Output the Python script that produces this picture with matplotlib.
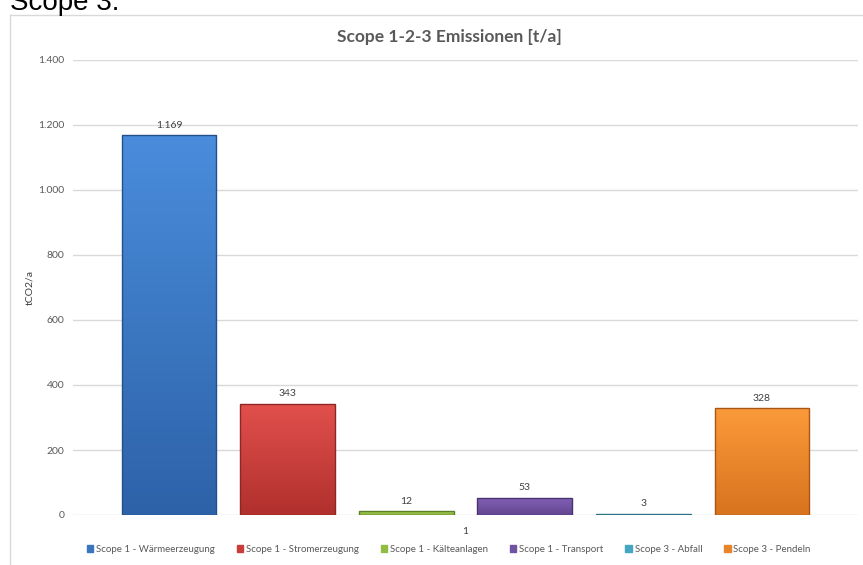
import matplotlib
matplotlib.use("Agg")
import matplotlib.pyplot as plt
import numpy as np
from matplotlib.patches import Patch
from matplotlib.colors import LinearSegmentedColormap
from matplotlib.lines import Line2D

# Emission sources and annual values (t CO2 per year)
categories = [
    "Scope 1 - Wärmeerzeugung",
    "Scope 1 - Stromerzeugung",
    "Scope 1 - Kälteanlagen",
    "Scope 1 - Transport",
    "Scope 3 - Abfall",
    "Scope 3 - Pendeln",
]
values = [1169, 343, 12, 53, 3, 328]
category_label = "1"
y_ticks = [0, 200, 400, 600, 800, 1000, 1200, 1400]

# (top colour, bottom colour, edge colour) for each bar
colors = [
    ("#4a8ddc", "#2d62a8", "#244f88"),
    ("#e2504d", "#b0302d", "#8e2624"),
    ("#a5d152", "#86ad3c", "#5f7f24"),
    ("#8462b8", "#624590", "#4a3370"),
    ("#55b8d3", "#3a95ad", "#2b7488"),
    ("#fb9a3a", "#d8731e", "#a85615"),
]
legend_colors = ["#3a76c0", "#c93c39", "#92bd44", "#7152a3", "#46a5c0", "#e8842b"]

plt.rcParams["font.family"] = ["Lato", "DejaVu Sans"]

W, H = 863, 565
fig = plt.figure(figsize=(W / 100, H / 100), dpi=100)

# page heading above the chart frame
fig.text(10 / W, 1 - 9.5 / H, "Scope 3.", fontsize=20, family="Liberation Sans",
         va="baseline", ha="left", color="#000000")

# chart frame
fig.add_artist(Line2D([10 / W, 10 / W], [0, 1 - 15 / H], transform=fig.transFigure,
                      color="#d9d9d9", lw=1))
fig.add_artist(Line2D([10 / W, 1], [1 - 15 / H, 1 - 15 / H], transform=fig.transFigure,
                      color="#d9d9d9", lw=1))

left, right = 73 / W, 858 / W
bottom, top = 1 - 515 / H, 1 - 60 / H
ax = fig.add_axes([left, bottom, right - left, top - bottom])

x = np.arange(len(values))
width = 0.80
bars = ax.bar(x, values, width=width, color="none", edgecolor="none", zorder=3)

grad = np.linspace(0, 1, 256).reshape(-1, 1)
for rect, (ctop, cbot, cedge), v in zip(bars, colors, values):
    cmap = LinearSegmentedColormap.from_list("g", [cbot, ctop])
    x0 = rect.get_x()
    x1 = x0 + rect.get_width()
    im = ax.imshow(grad, cmap=cmap, origin="lower", aspect="auto",
                   extent=(x0, x1, 0, v), zorder=3, interpolation="bilinear")
    im.set_clip_path(rect)
    ax.add_patch(plt.Rectangle((x0, 0), rect.get_width(), v, fill=False,
                               edgecolor=cedge, lw=1.0, zorder=4))
    label = f"{v:,}".replace(",", ".")
    ax.annotate(label, (rect.get_x() + rect.get_width() / 2, v),
                xytext=(0, 4), textcoords="offset points", ha="center", va="bottom",
                fontsize=7.5, color="#404040")

ax.set_xlim(-0.81, 5.81)
ax.set_ylim(0, 1400)
ax.set_yticks(y_ticks)
ax.set_yticklabels([f"{t:,}".replace(",", ".") for t in y_ticks])
ax.set_xticks([2.5])
ax.set_xticklabels([category_label])
ax.tick_params(axis="y", length=0, pad=6, labelsize=7.5, labelcolor="#595959")
ax.tick_params(axis="x", length=0, pad=9, labelsize=7.5, labelcolor="#404040")
ax.grid(axis="y", color="#d9d9d9", lw=1, zorder=0)
ax.set_axisbelow(True)
for s in ax.spines.values():
    s.set_visible(False)

ax.set_ylabel("tCO2/a", fontsize=7.5, color="#404040", labelpad=3)
fig.text(449 / W, 1 - 37 / H, "Scope 1-2-3 Emissionen [t/a]", fontsize=12.5,
         fontweight="bold", color="#595959", ha="center", va="center")

handles = [Patch(facecolor=c, edgecolor=c) for c in legend_colors]
fig.legend(handles, categories, loc="center", bbox_to_anchor=(0.52, 1 - 549 / H),
           ncol=6, frameon=False, fontsize=7, handlelength=0.7, handleheight=0.7,
           handletextpad=0.3, columnspacing=2.2, labelcolor="#595959")

fig.savefig("out.png", dpi=100)
